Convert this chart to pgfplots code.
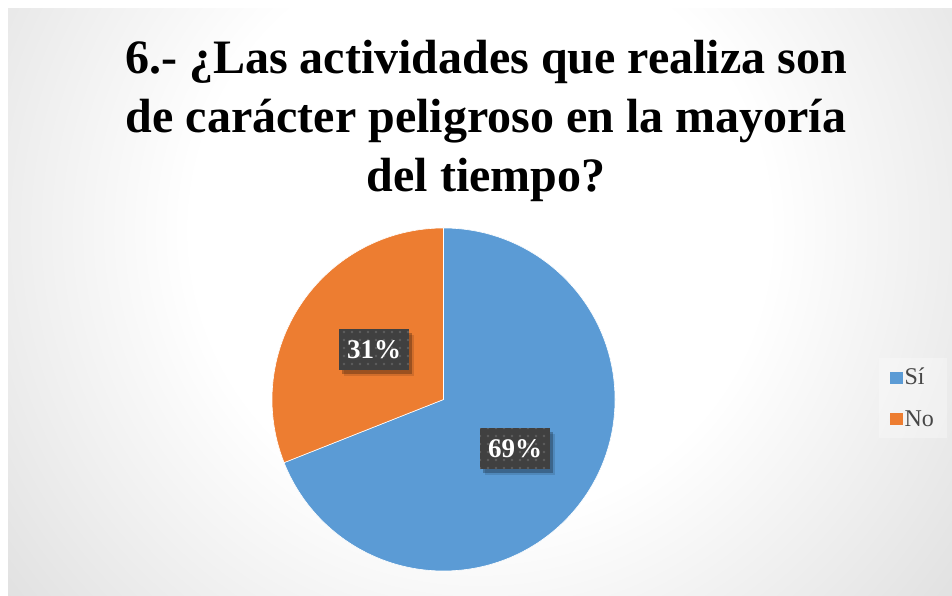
\documentclass[border=0pt]{standalone}
\usepackage{fontspec}
\setmainfont{Liberation Serif}
\usepackage{pgfplots}
\usepackage{pgfplotstable}
\pgfplotsset{compat=1.18}
\usetikzlibrary{shadows,patterns.meta}
\definecolor{sibl}{HTML}{5B9BD5}
\definecolor{noor}{HTML}{ED7D31}
\definecolor{lblbg}{HTML}{404040}
\definecolor{lbldot}{HTML}{5E5E5E}
\pgfdeclareradialshading{bgshade}{\pgfpoint{0bp}{0bp}}{color(0bp)=(white); color(12bp)=(white); color(33bp)=(black!19); color(42bp)=(black!23); color(50bp)=(black!24)}

\pgfplotstableread{
label value
Si 69
No 31
}\piedata

\tikzset{lbl/.style={fill=lblbg,
  postaction={pattern={Dots[distance=8pt,radius=1.3pt]}, pattern color=lbldot},
  text=white, font=\bfseries\fontsize{27}{27}\selectfont,
  minimum width=70pt, minimum height=41pt, inner sep=0pt,
  general shadow={shadow xshift=5pt, shadow yshift=-6pt, opacity=0.12, fill=black},
  drop shadow={shadow xshift=3pt, shadow yshift=-3.5pt, opacity=0.25, fill=black}}}

\begin{document}
\begin{tikzpicture}
\pgfplotstablegetelem{0}{value}\of\piedata \let\va\pgfplotsretval
\pgfplotstablegetelem{1}{value}\of\piedata \let\vb\pgfplotsretval
\pgfmathsetmacro\total{\va+\vb}
\pgfmathsetmacro\frac{\va/\total}
\pgfmathsetmacro\angA{90-360*\frac}
\fill[white] (0pt,0pt) rectangle (952pt,596pt);
\begin{scope}
\clip (8pt,0pt) rectangle (952pt,587pt);
\shade[shading=bgshade] (-120pt,-234pt) rectangle (1080pt,966pt);
\end{scope}
\begin{axis}[at={(0pt,0pt)}, anchor=south west, scale only axis,
  width=952pt, height=596pt, xmin=0, xmax=952, ymin=0, ymax=596,
  hide axis, clip=false,
  legend style={at={(axis cs:879,238)}, anchor=north west, draw=none,
    fill=white, fill opacity=0.3, text opacity=1,
    font=\fontsize{24}{28}\selectfont, text=black!72,
    inner xsep=11pt, inner ysep=8pt, row sep=20pt,
    nodes={inner sep=2pt}},
  legend cell align=left]
\addlegendimage{legend image code/.code={\fill[sibl, fill opacity=1] (0pt,-5.5pt) rectangle (12pt,5.5pt);}}
\addlegendentry{Sí}
\addlegendimage{legend image code/.code={\fill[noor, fill opacity=1] (0pt,-5.5pt) rectangle (12pt,5.5pt);}}
\addlegendentry{No}
\fill[sibl, draw=white, line width=0.6pt] (axis cs:443.5,196.5) -- ++(90:171.5pt)
  arc[start angle=90, end angle=\angA, radius=171.5pt] -- cycle;
\fill[noor, draw=white, line width=0.6pt] (axis cs:443.5,196.5) -- ++(\angA:171.5pt)
  arc[start angle=\angA, end angle=-270, radius=171.5pt] -- cycle;
\node[lbl] at (axis cs:374,246) {\vb\%};
\node[lbl] at (axis cs:515,147) {\va\%};
\end{axis}
\node[anchor=base, font=\bfseries\fontsize{48}{58}\selectfont] at (486pt,522pt) {6.- ¿Las actividades que realiza son};
\node[anchor=base, font=\bfseries\fontsize{48}{58}\selectfont] at (486pt,463pt) {de carácter peligroso en la mayoría};
\node[anchor=base, font=\bfseries\fontsize{48}{58}\selectfont] at (486pt,404pt) {del tiempo?};
\pgfresetboundingbox
\path[use as bounding box] (0pt,0pt) rectangle (952pt,596pt);
\end{tikzpicture}
\end{document}
